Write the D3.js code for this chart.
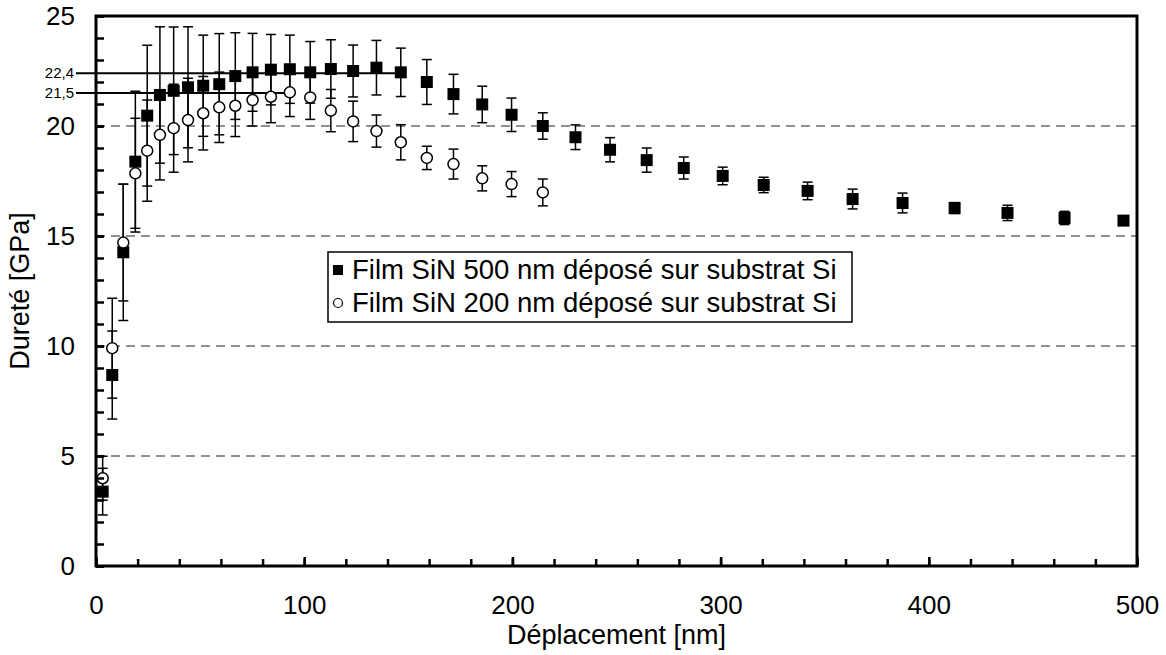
<!DOCTYPE html>
<html>
<head>
<meta charset="utf-8">
<script src="https://cdn.jsdelivr.net/npm/d3@7"></script>
<style>
  body { margin: 0; background: #fff; }
  text { font-family: "Liberation Sans", Arial, sans-serif; fill: #000; }
</style>
</head>
<body>
<svg id="chart" width="1166" height="655"></svg>
<script>
// film 500 nm (filled squares)
const depth500 = [3.2, 7.8, 13.1, 18.9, 24.6, 30.7, 37.3, 44.2, 51.5, 59.2, 66.9, 75.2, 84, 93.1, 102.9,
  112.8, 123.5, 134.7, 146.4, 158.9, 171.7, 185.5, 199.6, 214.6, 230.3, 246.9, 264.5, 282.3, 301,
  320.7, 341.8, 363.4, 387.4, 412.4, 437.8, 465.2, 493.5];
const hard500 = [3.38, 8.68, 14.26, 18.38, 20.47, 21.41, 21.6, 21.76, 21.83, 21.9, 22.27, 22.44, 22.56, 22.58, 22.44,
  22.59, 22.5, 22.65, 22.44, 22.0, 21.45, 20.98, 20.51, 20.0, 19.49, 18.92, 18.45, 18.09, 17.73,
  17.32, 17.05, 16.68, 16.5, 16.27, 16.05, 15.82, 15.7];
const err500 = [1.06, 2.0, 3.1, 3.2, 3.2, 3.1, 2.9, 2.75, 2.3, 2.3, 1.97, 1.77, 1.6, 1.55, 1.4,
  1.33, 1.18, 1.24, 1.1, 1.02, 0.9, 0.83, 0.76, 0.6, 0.56, 0.55, 0.55, 0.5, 0.4,
  0.35, 0.4, 0.45, 0.45, 0.25, 0.35, 0.3, 0.15];

// film 200 nm (open circles)
const depth200 = [3.2, 7.8, 13.1, 18.9, 24.6, 30.7, 37.3, 44.2, 51.5, 59.2, 66.9, 75.2, 84, 93.1, 102.9,
  112.8, 123.5, 134.7, 146.4, 158.9, 171.7, 185.5, 199.6, 214.6];
const hard200 = [3.99, 9.9, 14.7, 17.85, 18.88, 19.6, 19.9, 20.27, 20.58, 20.85, 20.92, 21.18, 21.33, 21.53, 21.3,
  20.7, 20.21, 19.77, 19.26, 18.55, 18.27, 17.62, 17.36, 16.98];
const err200 = [1.0, 2.27, 2.65, 2.5, 2.3, 2.05, 2.0, 1.9, 1.67, 1.6, 1.4, 1.18, 1.18, 1.1, 1.0,
  0.96, 0.92, 0.73, 0.8, 0.53, 0.68, 0.57, 0.57, 0.61];

// plateau markers
const refValues = [22.4, 21.5];
const refLabels = ["22,4", "21,5"];
const refEnds = [146.4, 93.1];

const xTicksMajor = [0, 100, 200, 300, 400, 500];
const yTicksMajor = [0, 5, 10, 15, 20, 25];
const gridValues = [5, 10, 15, 20];

const legendLabels = ["Film SiN 500 nm déposé sur substrat Si", "Film SiN 200 nm déposé sur substrat Si"];

const svg = d3.select("#chart");
const margin = { top: 16, left: 96, right: 29, bottom: 89 };
const width = 1166, height = 655;

const x = d3.scaleLinear().domain([0, 500]).range([margin.left, width - margin.right]);
const y = d3.scaleLinear().domain([0, 25]).range([height - margin.bottom, margin.top]);

const series500 = depth500.map((d, i) => ({ x: d, y: hard500[i], e: err500[i] }));
const series200 = depth200.map((d, i) => ({ x: d, y: hard200[i], e: err200[i] }));

// dashed grid
svg.append("g")
  .selectAll("line")
  .data(gridValues)
  .join("line")
  .attr("x1", x(0)).attr("x2", x(500))
  .attr("y1", d => y(d)).attr("y2", d => y(d))
  .attr("stroke", "#222")
  .attr("stroke-width", 1)
  .attr("stroke-dasharray", "9,6");

// plateau lines
const ref = svg.append("g");
refValues.forEach((v, i) => {
  ref.append("line")
    .attr("x1", x(0) - 20).attr("x2", x(refEnds[i]))
    .attr("y1", y(v)).attr("y2", y(v))
    .attr("stroke", "#000").attr("stroke-width", 2);
  ref.append("text")
    .attr("x", x(0) - 22).attr("y", y(v))
    .attr("dy", "0.35em")
    .attr("text-anchor", "end")
    .attr("font-size", 15)
    .text(refLabels[i]);
});

// error bars
const drawErrors = (data, cls) => {
  const g = svg.append("g").attr("class", cls).attr("stroke", "#000").attr("stroke-width", 1.5);
  g.selectAll("line.v").data(data).join("line").attr("class", "v")
    .attr("x1", d => x(d.x)).attr("x2", d => x(d.x))
    .attr("y1", d => y(d.y - d.e)).attr("y2", d => y(d.y + d.e));
  g.selectAll("line.t").data(data).join("line").attr("class", "t")
    .attr("x1", d => x(d.x) - 5).attr("x2", d => x(d.x) + 5)
    .attr("y1", d => y(d.y + d.e)).attr("y2", d => y(d.y + d.e));
  g.selectAll("line.b").data(data).join("line").attr("class", "b")
    .attr("x1", d => x(d.x) - 5).attr("x2", d => x(d.x) + 5)
    .attr("y1", d => y(d.y - d.e)).attr("y2", d => y(d.y - d.e));
};
drawErrors(series200, "err200");
drawErrors(series500, "err500");

// markers
const sq = 12;
svg.append("g")
  .selectAll("rect")
  .data(series500)
  .join("rect")
  .attr("x", d => x(d.x) - sq / 2)
  .attr("y", d => y(d.y) - sq / 2)
  .attr("width", sq).attr("height", sq)
  .attr("fill", "#000");

svg.append("g")
  .selectAll("circle")
  .data(series200)
  .join("circle")
  .attr("cx", d => x(d.x))
  .attr("cy", d => y(d.y))
  .attr("r", 5.5)
  .attr("fill", "#fff")
  .attr("stroke", "#000")
  .attr("stroke-width", 1.5);

// axes: ticks point inward
const xMinor = d3.axisBottom(x).tickValues(d3.range(0, 501, 20)).tickSize(-7).tickFormat("");
const xMajor = d3.axisBottom(x).tickValues(xTicksMajor).tickSize(-9).tickPadding(30);
const yMinor = d3.axisLeft(y).tickValues(d3.range(0, 26, 1)).tickSize(-8).tickFormat("");
const yMajor = d3.axisLeft(y).tickValues(yTicksMajor).tickSize(-8).tickPadding(21);

[xMinor, xMajor].forEach(a => {
  svg.append("g").attr("transform", `translate(0,${y(0)})`).call(a)
    .call(g => g.select(".domain").remove())
    .call(g => g.selectAll(".tick line").attr("stroke", "#000").attr("stroke-width", 2.5))
    .call(g => g.selectAll(".tick text").attr("font-size", 26).attr("font-family", "Liberation Sans, Arial, sans-serif"));
});
[yMinor, yMajor].forEach(a => {
  svg.append("g").attr("transform", `translate(${x(0)},0)`).call(a)
    .call(g => g.select(".domain").remove())
    .call(g => g.selectAll(".tick line").attr("stroke", "#000").attr("stroke-width", 2.5))
    .call(g => g.selectAll(".tick text").attr("font-size", 26).attr("font-family", "Liberation Sans, Arial, sans-serif"));
});

// frame
svg.append("rect")
  .attr("x", x(0)).attr("y", y(25))
  .attr("width", x(500) - x(0)).attr("height", y(0) - y(25))
  .attr("fill", "none").attr("stroke", "#000").attr("stroke-width", 3);

// axis titles
svg.append("text")
  .attr("x", (x(0) + x(500)) / 2).attr("y", 644)
  .attr("text-anchor", "middle")
  .attr("font-size", 27)
  .text("Déplacement [nm]");

svg.append("text")
  .attr("transform", `translate(29,${y(12.5)}) rotate(-90)`)
  .attr("text-anchor", "middle")
  .attr("font-size", 27)
  .text("Dureté [GPa]");

// legend
const lg = svg.append("g");
lg.append("rect")
  .attr("x", 328).attr("y", 252).attr("width", 524).attr("height", 70)
  .attr("fill", "#fff").attr("stroke", "#000").attr("stroke-width", 1.5);
lg.append("rect").attr("x", 333).attr("y", 265).attr("width", 10).attr("height", 10).attr("fill", "#000");
lg.append("circle").attr("cx", 338).attr("cy", 303).attr("r", 4.5)
  .attr("fill", "#fff").attr("stroke", "#000").attr("stroke-width", 1.2);
lg.selectAll("text.lab").data(legendLabels).join("text").attr("class", "lab")
  .attr("x", 352).attr("y", (d, i) => 279 + i * 33)
  .attr("font-size", 27.5)
  .text(d => d);
</script>
</body>
</html>
